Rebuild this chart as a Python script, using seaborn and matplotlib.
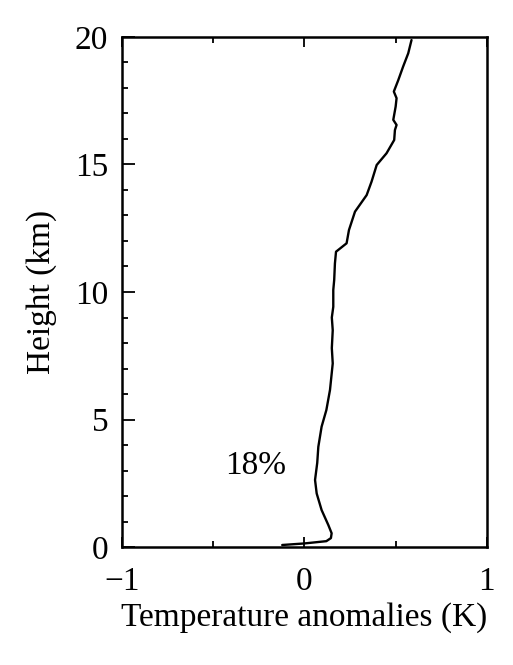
import matplotlib
matplotlib.use("Agg")
import matplotlib.pyplot as plt
from matplotlib.ticker import MultipleLocator
import seaborn as sns
import pandas as pd

height_km = [0.08, 0.14, 0.23, 0.35, 0.54, 0.86, 1.45, 2.1, 2.63, 3.3, 3.93, 4.72, 5.37,
             6.16, 7.2, 7.8, 8.5, 9.0, 9.42, 10.08, 10.47, 11.12, 11.58, 11.91,
             12.43, 13.15, 13.8, 14.33, 14.98, 15.44, 15.96, 16.35, 16.55, 16.75,
             17.27, 17.6, 17.86, 18.3, 18.84, 19.36, 19.88]
temp_anom = [-0.122, -0.001, 0.12, 0.145, 0.149, 0.131, 0.094, 0.067, 0.058, 0.07, 0.076,
             0.094, 0.12, 0.14, 0.155, 0.15, 0.155, 0.15, 0.158, 0.158, 0.163,
             0.167, 0.173, 0.231, 0.244, 0.277, 0.341, 0.368, 0.396, 0.45, 0.492,
             0.496, 0.505, 0.487, 0.5, 0.505, 0.49, 0.514, 0.541, 0.569, 0.587]

x_ticks = [-1, 0, 1]
y_ticks = [0, 5, 10, 15, 20]
annotation = "18%"

df = pd.DataFrame({"temp": temp_anom, "height": height_km})

sns.set_style("ticks")
plt.rcParams['font.family'] = ['Liberation Serif', 'DejaVu Serif']
plt.rcParams['text.color'] = 'black'
plt.rcParams['axes.labelcolor'] = 'black'
plt.rcParams['xtick.color'] = 'black'
plt.rcParams['ytick.color'] = 'black'

fig = plt.figure(figsize=(5.13, 6.65), dpi=100)
ax = fig.add_axes([0.238, 0.1774, 0.711, 0.767])

sns.lineplot(data=df, x="temp", y="height", sort=False, estimator=None,
             color="black", linewidth=1.7, ax=ax)

ax.set_xlim(-1, 1)
ax.set_ylim(0, 20)
ax.set_xticks(x_ticks)
ax.set_yticks(y_ticks)
ax.xaxis.set_minor_locator(MultipleLocator(0.5))
ax.yaxis.set_minor_locator(MultipleLocator(1))
ax.set_xticklabels(["\u22121", "0", "1"])

ax.tick_params(axis="x", which="major", direction="in", length=7, width=1.3,
               top=True, bottom=True, labelsize=24, pad=14, labelcolor="black")
ax.tick_params(axis="x", which="minor", direction="in", length=4, width=1.3,
               top=True, bottom=True)
ax.tick_params(axis="y", which="major", direction="in", length=9, width=1.3,
               left=True, right=False, labelsize=24, pad=10, labelcolor="black")
ax.tick_params(axis="y", which="minor", direction="in", length=4.5, width=1.3,
               left=True, right=False)

for s in ax.spines.values():
    s.set_linewidth(1.8)
    s.set_color("black")

ax.set_xlabel("Temperature anomalies (K)", fontsize=24, labelpad=4, color="black")
ax.set_ylabel("Height (km)", fontsize=24, labelpad=13, color="black")

ax.text(-0.266, 3.2, annotation, fontsize=24, ha="center", va="center", color="black")

fig.savefig("out.png", dpi=100)
